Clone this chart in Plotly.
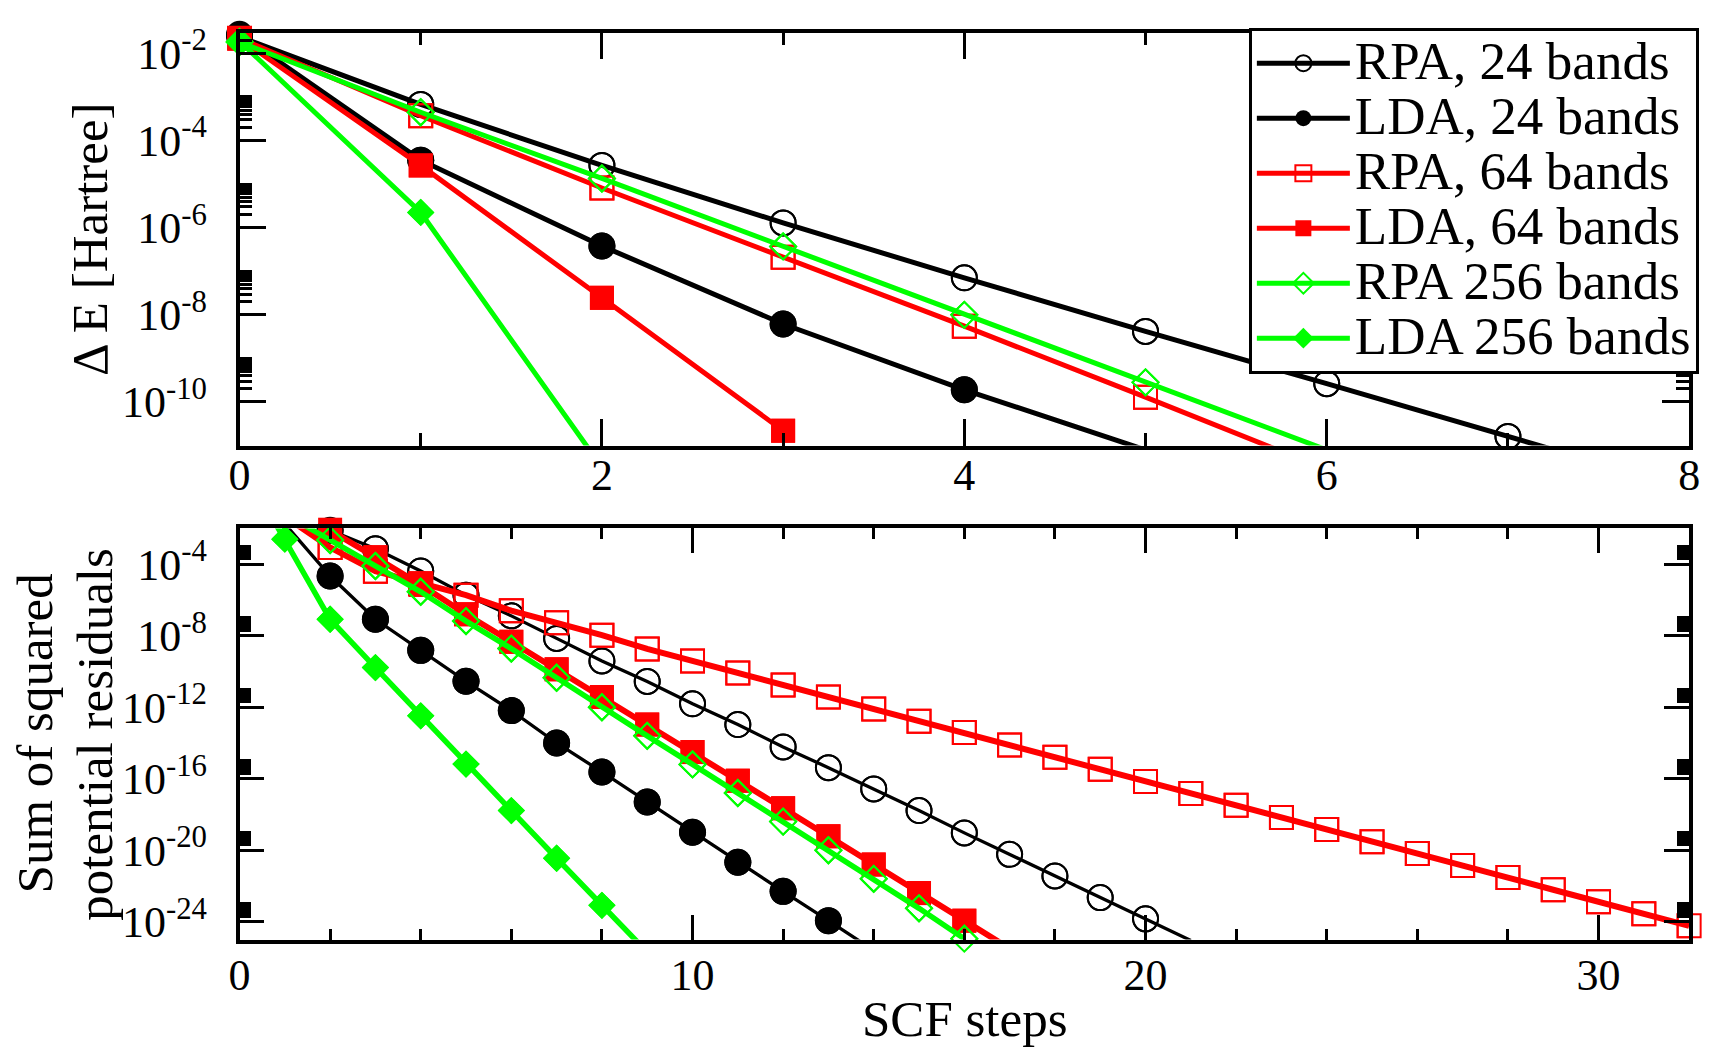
import math
import plotly.graph_objects as go

# ---------------- data (log10 of the plotted values) ----------------
# Top panel: Delta E [Hartree] vs SCF step
top_x_rpa24 = [0, 1, 2, 3, 4, 5, 6, 7, 8]
top_rpa24 = [-1.62, -3.17, -4.57, -5.89, -7.15, -8.38, -9.58, -10.79, -12.0]
top_x_lda24 = [0, 1, 2, 3, 4, 5]
top_lda24 = [-1.56, -4.45, -6.42, -8.21, -9.72, -11.1]
top_x_rpa64 = [0, 1, 2, 3, 4, 5, 6]
top_rpa64 = [-1.65, -3.43, -5.09, -6.68, -8.26, -9.89, -11.55]
top_x_lda64 = [0, 1, 2, 3]
top_lda64 = [-1.66, -4.57, -7.61, -10.66]
top_x_rpa256 = [0, 1, 2, 3, 4, 5, 6]
top_rpa256 = [-1.74, -3.35, -4.87, -6.43, -8.0, -9.55, -11.1]
top_x_lda256 = [0, 1, 2]
top_lda256 = [-1.72, -5.65, -11.5]

# Bottom panel: sum of squared potential residuals vs SCF step
bot_x_rpa24 = list(range(1, 22))
bot_rpa24 = [-0.8, -2.1, -3.13, -4.38, -5.73, -6.89, -8.15, -9.41, -10.56, -11.81,
             -12.97, -14.22, -15.38, -16.57, -17.78, -19.03, -20.23, -21.44, -22.65,
             -23.84, -25.05]
bot_x_lda24 = list(range(1, 15))
bot_lda24 = [-1.74, -4.66, -7.08, -8.82, -10.55, -12.19, -14.0, -15.62, -17.3, -18.99,
             -20.67, -22.3, -23.94, -25.6]
bot_x_rpa64 = list(range(1, 33))
bot_rpa64 = [-1.33, -3.06, -4.39, -5.1, -5.73, -6.6, -7.28, -7.97, -8.74, -9.41,
             -10.08, -10.76, -11.43, -12.1, -12.78, -13.41, -14.12, -14.8, -15.47,
             -16.15, -16.82, -17.49, -18.17, -18.84, -19.52, -20.19, -20.86, -21.53,
             -22.21, -22.88, -23.55, -24.23]
bot_x_lda64 = list(range(1, 18))
bot_lda64 = [-0.6, -2.07, -3.61, -5.15, -6.8, -8.34, -9.88, -11.43, -12.97, -14.51,
             -16.11, -17.65, -19.22, -20.8, -22.4, -23.94, -25.5]
bot_x_rpa256 = list(range(1, 17))
bot_rpa256 = [-1.2, -2.65, -4.1, -5.54, -7.18, -8.72, -10.35, -12.0, -13.6, -15.2,
              -16.8, -18.4, -20.0, -21.6, -23.25, -24.95]
bot_x_lda256 = list(range(0, 10))
bot_lda256 = [1.8, -2.6, -7.08, -9.78, -12.48, -15.18, -17.78, -20.45, -23.08, -25.7]

series_names = ["RPA, 24 bands", "LDA, 24 bands", "RPA, 64 bands",
                "LDA, 64 bands", "RPA 256 bands", "LDA 256 bands"]

top_x_major = [0, 2, 4, 6, 8]
top_y_major_exp = [-2, -4, -6, -8, -10]
bot_x_major = [0, 10, 20, 30]
bot_y_major_exp = [-4, -8, -12, -16, -20, -24]

# ---------------- styles ----------------
FONT = "Liberation Serif"
BLACK, RED, GREEN = "#000000", "#ff0000", "#00ff00"
styles = [
    dict(color=BLACK, symbol="circle-open", size=25),
    dict(color=BLACK, symbol="circle", size=27),
    dict(color=RED, symbol="square-open", size=23),
    dict(color=RED, symbol="square", size=24),
    dict(color=GREEN, symbol="diamond-open", size=20),
    dict(color=GREEN, symbol="diamond", size=21),
]
top_lw = [5, 5, 5, 5, 5, 5]
bot_lw = [3.3, 3.3, 6, 6, 5.5, 5.5]

TOP_XR = [0, 8]
TOP_YR = [-11.0, -1.523]
BOT_XR = [0, 32]
BOT_YR = [-25.0, -2.0]

top_sets = [(top_x_rpa24, top_rpa24), (top_x_lda24, top_lda24), (top_x_rpa64, top_rpa64),
            (top_x_lda64, top_lda64), (top_x_rpa256, top_rpa256), (top_x_lda256, top_lda256)]
bot_sets = [(bot_x_rpa24, bot_rpa24), (bot_x_lda24, bot_lda24), (bot_x_rpa64, bot_rpa64),
            (bot_x_lda64, bot_lda64), (bot_x_rpa256, bot_rpa256), (bot_x_lda256, bot_lda256)]

fig = go.Figure()


def marker_dict(st):
    open_sym = st["symbol"].endswith("-open")
    return dict(symbol=st["symbol"], size=st["size"], color=st["color"],
                line=dict(width=2 if open_sym else 0, color=st["color"]))


def add_series(xs, exps, st, lw, name, xa, ya, xr, yr, legend):
    ys = [10 ** e for e in exps]
    # line (clipped to the plot area)
    fig.add_trace(go.Scatter(
        x=xs, y=ys, mode="lines+markers", name=name,
        line=dict(color=st["color"], width=lw), marker=marker_dict(st),
        xaxis=xa, yaxis=ya, showlegend=legend, cliponaxis=True, hoverinfo="skip"))
    # symbols of in-range points, drawn whole even at the frame
    keep = [(x, y) for x, y, e in zip(xs, ys, exps)
            if yr[0] <= e <= yr[1] and xr[0] <= x <= xr[1]]
    fig.add_trace(go.Scatter(
        x=[k[0] for k in keep], y=[k[1] for k in keep], mode="markers",
        marker=marker_dict(st), xaxis=xa, yaxis=ya, showlegend=False,
        cliponaxis=False, hoverinfo="skip"))


for (xs, ex), st, lw, nm in zip(top_sets, styles, top_lw, series_names):
    add_series(xs, ex, st, lw,
               '<span style="font-size:53px">' + nm + '</span>',
               "x", "y", TOP_XR, TOP_YR, True)
for (xs, ex), st, lw, nm in zip(bot_sets, styles, bot_lw, series_names):
    add_series(xs, ex, st, lw, nm, "x2", "y2", BOT_XR, BOT_YR, False)

# ---------------- axes ----------------
W, H = 1710, 1050
x_dom = [231.5 / W, 1700 / W]
top_dom = [1 - 443.3 / H, 1 - 24 / H]
bot_dom = [1 - 945 / H, 1 - 527.5 / H]


def minor_log(exps, yr):
    vals = [k * 10 ** n for n in exps for k in range(2, 11)]
    return [v for v in vals if yr[0] <= math.log10(v) <= yr[1]]


common = dict(showline=True, linewidth=3.5, linecolor="black", mirror="allticks",
              ticks="inside", tickwidth=3, tickcolor="black", showgrid=False,
              zeroline=False, ticklabeloverflow="allow",
              tickfont=dict(family=FONT, size=44, color="black"))

fig.update_layout(
    xaxis=dict(domain=x_dom, range=TOP_XR, anchor="y", tickmode="array",
               tickvals=top_x_major, ticktext=[str(v) for v in top_x_major],
               ticklen=27, ticklabelstandoff=-12,
               minor=dict(ticks="inside", ticklen=13, tickwidth=3, tickcolor="black",
                          dtick=1, tick0=0, showgrid=False),
               **common),
    yaxis=dict(domain=top_dom, type="log", range=TOP_YR, anchor="x", tickmode="array",
               tickvals=[10 ** e for e in top_y_major_exp],
               ticktext=["10<sup>%d</sup>" % e for e in top_y_major_exp],
               ticklen=27, ticklabelstandoff=20,
               minor=dict(ticks="inside", ticklen=13, tickwidth=3, tickcolor="black",
                          tickmode="array", tickvals=minor_log(top_y_major_exp, TOP_YR),
                          showgrid=False),
               **common),
    xaxis2=dict(domain=x_dom, range=BOT_XR, anchor="y2", tickmode="array",
                tickvals=bot_x_major, ticktext=[str(v) for v in bot_x_major],
                ticklen=25, ticklabelstandoff=-6,
                minor=dict(ticks="inside", ticklen=11, tickwidth=3, tickcolor="black",
                           dtick=2, tick0=0, showgrid=False),
                **common),
    yaxis2=dict(domain=bot_dom, type="log", range=BOT_YR, anchor="x2", tickmode="array",
                tickvals=[10 ** e for e in bot_y_major_exp],
                ticktext=["10<sup>%d</sup>" % e for e in bot_y_major_exp],
                ticklen=25, ticklabelstandoff=20,
                minor=dict(ticks="inside", ticklen=12, tickwidth=3, tickcolor="black",
                           tickmode="array", tickvals=minor_log(bot_y_major_exp, BOT_YR),
                           showgrid=False),
                **common),
)

title_font = dict(family=FONT, size=51, color="black")
fig.update_layout(
    width=W, height=H, margin=dict(l=0, r=0, t=0, b=0),
    paper_bgcolor="white", plot_bgcolor="white",
    font=dict(family=FONT, size=44, color="black"),
    legend=dict(x=1254 / W, y=1 - 19 / H, xanchor="left", yanchor="top",
                bgcolor="white", bordercolor="black", borderwidth=3,
                font=dict(family=FONT, size=40, color="black"),
                itemwidth=93, tracegroupgap=0, traceorder="normal"),
    annotations=[
        dict(text="\u0394 E [Hartree]", x=80 / W, y=1 - 233.5 / H, xref="paper",
             yref="paper", showarrow=False, textangle=-90, xanchor="center",
             yanchor="middle", font=title_font),
        dict(text="Sum of squared", x=24 / W, y=1 - 736 / H,
             xref="paper", yref="paper", showarrow=False, textangle=-90,
             xanchor="center", yanchor="middle", font=title_font),
        dict(text="potential residuals", x=85 / W, y=1 - 736 / H,
             xref="paper", yref="paper", showarrow=False, textangle=-90,
             xanchor="center", yanchor="middle", font=title_font),
        dict(text="SCF steps", x=966 / W, y=1 - 1026 / H, xref="paper", yref="paper",
             showarrow=False, xanchor="center", yanchor="middle", font=title_font),
    ],
)

fig.write_html("out.html")
